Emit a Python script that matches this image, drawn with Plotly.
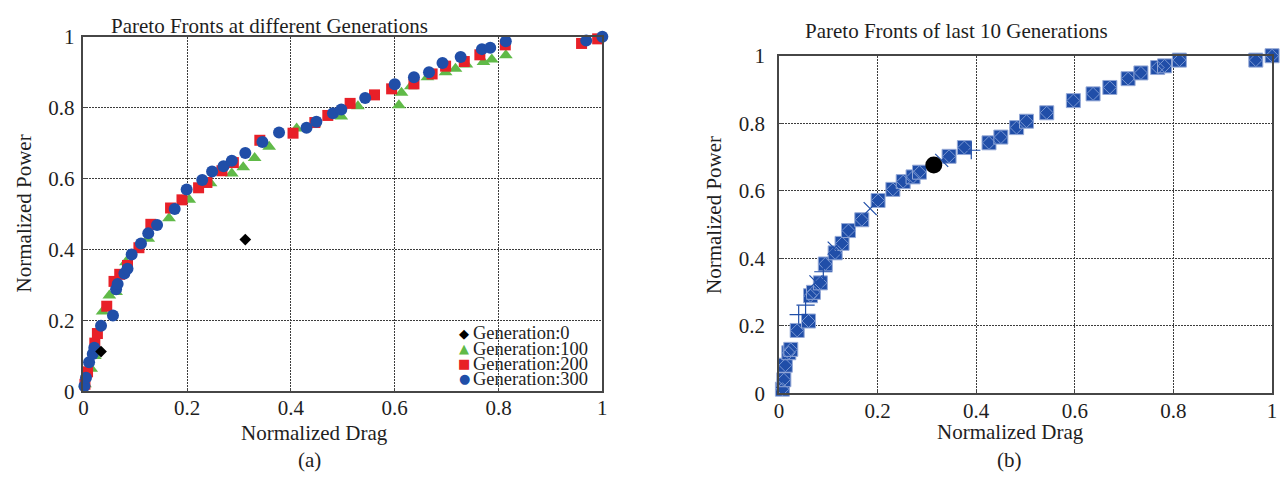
import plotly.graph_objects as go

# ---------------- data: panel (a) ----------------
gen0_drag = [0.034, 0.312]
gen0_power = [0.112, 0.428]

gen100_drag = [0.003, 0.015, 0.022, 0.037, 0.050, 0.063, 0.082, 0.125, 0.165, 0.204, 0.245, 0.286,
               0.308, 0.330, 0.358, 0.411, 0.445, 0.497, 0.529, 0.608, 0.613, 0.631, 0.663, 0.698,
               0.717, 0.738, 0.771, 0.787, 0.814]
gen100_power = [0.020, 0.064, 0.100, 0.225, 0.270, 0.280, 0.364, 0.430, 0.488, 0.540, 0.587, 0.614,
                0.632, 0.658, 0.690, 0.741, 0.755, 0.775, 0.804, 0.807, 0.842, 0.860, 0.886, 0.900,
                0.910, 0.922, 0.929, 0.936, 0.948]

gen200_drag = [0.003, 0.008, 0.022, 0.027, 0.045, 0.059, 0.070, 0.085, 0.107, 0.130, 0.168, 0.190,
               0.222, 0.238, 0.267, 0.289, 0.340, 0.404, 0.446, 0.471, 0.514, 0.561, 0.594, 0.637,
               0.672, 0.698, 0.734, 0.764, 0.813, 0.960, 0.991]
gen200_power = [0.020, 0.055, 0.136, 0.163, 0.240, 0.310, 0.330, 0.355, 0.405, 0.471, 0.517, 0.540,
                0.574, 0.589, 0.622, 0.645, 0.708, 0.728, 0.758, 0.778, 0.812, 0.836, 0.853, 0.867,
                0.895, 0.917, 0.930, 0.949, 0.977, 0.981, 0.994]

gen300_drag = [0.002, 0.005, 0.011, 0.018, 0.021, 0.034, 0.057, 0.063, 0.066, 0.079, 0.085, 0.093,
               0.111, 0.125, 0.142, 0.176, 0.199, 0.229, 0.248, 0.270, 0.286, 0.312, 0.345, 0.377,
               0.430, 0.449, 0.481, 0.497, 0.543, 0.600, 0.637, 0.666, 0.692, 0.727, 0.768, 0.784,
               0.814, 0.969, 1.000]
gen300_power = [0.015, 0.038, 0.082, 0.105, 0.123, 0.185, 0.214, 0.288, 0.303, 0.332, 0.346, 0.386,
                0.417, 0.446, 0.469, 0.514, 0.569, 0.596, 0.620, 0.635, 0.650, 0.672, 0.703, 0.730,
                0.743, 0.760, 0.784, 0.795, 0.827, 0.866, 0.886, 0.900, 0.926, 0.943, 0.965, 0.969,
                0.987, 0.989, 1.000]

# ---------------- data: panel (b) ----------------
last10_drag = [0.007, 0.010, 0.013, 0.020, 0.024, 0.037, 0.060, 0.064, 0.070, 0.084, 0.094, 0.114,
               0.128, 0.141, 0.168, 0.201, 0.231, 0.252, 0.272, 0.285, 0.345, 0.376, 0.426, 0.450,
               0.482, 0.502, 0.543, 0.597, 0.637, 0.671, 0.708, 0.734, 0.768, 0.782, 0.812, 0.967,
               1.000]
last10_power = [0.012, 0.040, 0.083, 0.120, 0.130, 0.186, 0.214, 0.289, 0.299, 0.327, 0.383, 0.416,
                0.444, 0.482, 0.514, 0.571, 0.604, 0.627, 0.641, 0.655, 0.702, 0.728, 0.742, 0.759,
                0.787, 0.806, 0.831, 0.867, 0.887, 0.906, 0.932, 0.949, 0.965, 0.970, 0.987, 0.987,
                1.000]
stray_x_drag = [0.185, 0.330, 0.112, 0.075]
stray_x_power = [0.547, 0.690, 0.430, 0.330]
stray_plus_drag = [0.040, 0.054, 0.090, 0.390]
stray_plus_power = [0.233, 0.261, 0.360, 0.720]
best_drag = [0.314]
best_power = [0.676]

tick_vals = [0, 0.2, 0.4, 0.6, 0.8, 1]
tick_text = ["0", "0.2", "0.4", "0.6", "0.8", "1"]

BLUE = "rgb(32,78,168)"
RED = "rgb(232,32,40)"
GREEN = "rgb(96,186,72)"
FONT = "Liberation Serif, Times New Roman, serif"
TXT = "rgb(30,30,30)"

fig = go.Figure()

fig.add_trace(go.Scatter(x=gen100_drag, y=gen100_power, mode="markers", xaxis="x", yaxis="y",
                         marker=dict(symbol="triangle-up", size=12, color=GREEN), cliponaxis=False,
                         name="Generation:100"))
fig.add_trace(go.Scatter(x=gen200_drag, y=gen200_power, mode="markers", xaxis="x", yaxis="y",
                         marker=dict(symbol="square", size=11, color=RED), cliponaxis=False,
                         name="Generation:200"))
fig.add_trace(go.Scatter(x=gen300_drag, y=gen300_power, mode="markers", xaxis="x", yaxis="y",
                         marker=dict(symbol="circle", size=12, color=BLUE), cliponaxis=False,
                         name="Generation:300"))
fig.add_trace(go.Scatter(x=gen0_drag, y=gen0_power, mode="markers", xaxis="x", yaxis="y",
                         marker=dict(symbol="diamond", size=9, color="black"), cliponaxis=False,
                         name="Generation:0"))

fig.add_trace(go.Scatter(x=last10_drag, y=last10_power, mode="markers", xaxis="x2", yaxis="y2",
                         marker=dict(symbol="square", size=14, color=BLUE,
                                     line=dict(color="rgb(150,170,215)", width=1)),
                         cliponaxis=False, name="last 10"))
fig.add_trace(go.Scatter(x=last10_drag, y=last10_power, mode="markers", xaxis="x2", yaxis="y2",
                         marker=dict(symbol="diamond-open", size=10, color="rgb(120,150,210)",
                                     line=dict(width=1)),
                         cliponaxis=False, name="last 10b"))
fig.add_trace(go.Scatter(x=stray_x_drag, y=stray_x_power, mode="markers", xaxis="x2", yaxis="y2",
                         marker=dict(symbol="x-thin", size=13, line=dict(color=BLUE, width=1.2)),
                         cliponaxis=False, name="stray x"))
fig.add_trace(go.Scatter(x=stray_plus_drag, y=stray_plus_power, mode="markers", xaxis="x2", yaxis="y2",
                         marker=dict(symbol="cross-thin", size=13, line=dict(color=BLUE, width=1.2)),
                         cliponaxis=False, name="stray +"))
fig.add_trace(go.Scatter(x=best_drag, y=best_power, mode="markers", xaxis="x2", yaxis="y2",
                         marker=dict(symbol="circle", size=17, color="black"), cliponaxis=False,
                         name="best"))

axis_common = dict(range=[0, 1], tickvals=tick_vals, ticktext=tick_text, showline=True, mirror=True,
                   linecolor="rgb(70,70,70)", linewidth=1.5, showgrid=True,
                   gridcolor="rgb(60,60,60)", gridwidth=1, griddash="2px,1px", zeroline=False,
                   ticks="inside", ticklen=4, tickcolor="rgb(70,70,70)",
                   tickfont=dict(family=FONT, size=21, color=TXT))

W, H = 1288, 487
def px(xp):
    return xp / W
def py(yp):
    return 1 - yp / H

fig.update_layout(
    autosize=True, margin=dict(l=0, r=0, t=0, b=0),
    paper_bgcolor="white", plot_bgcolor="white", showlegend=False,
    xaxis=dict(domain=[px(79), px(602)], anchor="y", ticklabelstandoff=-3, **axis_common),
    yaxis=dict(domain=[py(399), py(26)], anchor="x", ticklabelstandoff=3, **axis_common),
    xaxis2=dict(domain=[px(780), px(1277)], anchor="y2", ticklabelstandoff=-2, **axis_common),
    yaxis2=dict(domain=[py(401), py(46)], anchor="x2", ticklabelstandoff=8, **axis_common),
)

ann = []
def text(x, y, s, size=21, angle=0, xanchor="center"):
    ann.append(dict(x=px(x), y=py(y), xref="paper", yref="paper", text=s, showarrow=False,
                    xanchor=xanchor, yanchor="middle", textangle=angle,
                    font=dict(family=FONT, size=size, color=TXT)))

text(267, 15, "Pareto Fronts at different Generations")
text(959, 20, "Pareto Fronts of last 10 Generations")
text(312, 443, "Normalized Drag")
text(1013, 442, "Normalized Drag")
text(19, 212, "Normalized Power", angle=-90)
text(714, 213, "Normalized Power", angle=-90)
text(307, 471, "(a)")
text(1012, 471, "(b)")

legend_rows = [("◆", "black", "Generation:0", 338),
               ("▲", GREEN, "Generation:100", 354),
               ("■", RED, "Generation:200", 370),
               ("●", BLUE, "Generation:300", 386)]
for glyph, col, label, yy in legend_rows:
    ann.append(dict(x=px(463), y=py(yy), xref="paper", yref="paper", text=glyph, showarrow=False,
                    xanchor="center", yanchor="middle",
                    font=dict(family="DejaVu Sans", size=13, color=col)))
    ann.append(dict(x=px(470), y=py(yy), xref="paper", yref="paper", text=label, showarrow=False,
                    xanchor="left", yanchor="middle",
                    font=dict(family=FONT, size=18.5, color=TXT)))

fig.update_layout(annotations=ann)
fig.write_html(
    "out.html",
    default_width="100vw", default_height="100vh",
    config={"responsive": True},
    post_script=("document.documentElement.style.margin='0';document.body.style.margin='0';"
                 "document.body.style.overflow='hidden';"
                 "var gd=document.getElementById('{plot_id}');gd.style.width='100vw';"
                 "gd.style.height='100vh';Plotly.Plots.resize(gd);"),
)
